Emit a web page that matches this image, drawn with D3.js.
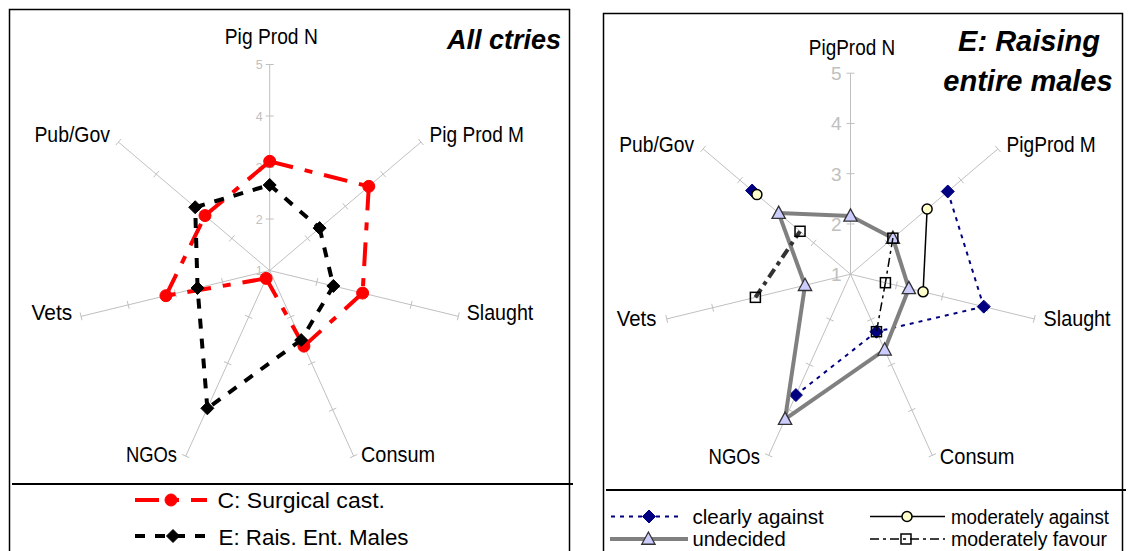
<!DOCTYPE html>
<html><head><meta charset="utf-8">
<script src="https://cdn.jsdelivr.net/npm/d3@7"></script>
<style>
body{margin:0;background:#fff}
svg{display:block}
text{font-family:"Liberation Sans",Arial,Helvetica,sans-serif}
</style>
</head><body>
<svg id="c" width="1128" height="551"></svg>
<script>
// ---------- data ----------
const axesLeft  = ["Pig Prod N","Pig Prod M","Slaught","Consum","NGOs","Vets","Pub/Gov"];
const axesRight = ["PigProd N","PigProd M","Slaught","Consum","NGOs","Vets","Pub/Gov"];
const tickValues = [1,2,3,4,5];
const titleLeft = ["All ctries"];
const titleRight = ["E: Raising","entire males"];

// left panel: all countries
const surgicalCast = [3.12, 3.62, 2.97, 2.63, 1.17, 3.20, 2.71];
const raisEntMales = [2.66, 2.32, 2.35, 2.50, 3.97, 2.53, 2.97];
const legendLeft = ["C: Surgical cast.", "E: Rais. Ent. Males"];

// right panel: E raising entire males, by attitude group
const clearlyAgainst    = [null, 3.64, 3.90, 2.27, 3.67, null, 3.67];
const moderatelyAgainst = [null, 3.08, 2.58, null, null, null, 3.54];
const undecided         = [2.16, 2.15, 2.27, 2.67, 4.20, 1.99, 2.95];
const moderatelyFavour  = [null, 2.15, 1.76, 2.27, null, 3.07, 2.37];
const legendRight = ["clearly against","moderately against","undecided","moderately favour"];

// ---------- drawing ----------
const svg = d3.select("#c");
const GRID = "#c0c0c0";

function makeGeom(cx, cy, rx, ry, n){
  const r = d3.scaleLinear().domain([1,5]).range([0,1]);
  const ang = d3.scaleLinear().domain([0,n]).range([0, 2*Math.PI]);
  const pt = (i, v) => [cx + r(v)*rx*Math.sin(ang(i)), cy - r(v)*ry*Math.cos(ang(i))];
  return {r, ang, pt, cx, cy, rx, ry, n};
}

function drawAxes(g, geo, tickFont, tdx, tdy){
  const line = d3.line();
  for (let i=0;i<geo.n;i++){
    const a = geo.pt(i,1), b = geo.pt(i,5);
    g.append("path").attr("d", line([a,b])).attr("stroke",GRID).attr("stroke-width",1).attr("fill","none");
    const L = Math.hypot(b[0]-a[0], b[1]-a[1]);
    const ux=(b[0]-a[0])/L, uy=(b[1]-a[1])/L;
    const px=-uy, py=ux;
    tickValues.slice(1).forEach(v=>{
      const p = geo.pt(i,v);
      g.append("path").attr("d", line([[p[0]-4*px,p[1]-4*py],[p[0]+4*px,p[1]+4*py]]))
        .attr("stroke",GRID).attr("stroke-width",1);
    });
  }
  tickValues.forEach(v=>{
    const p = geo.pt(0,v);
    g.append("text").attr("x", geo.cx + tdx).attr("y", p[1]+tdy)
      .attr("text-anchor","end").attr("font-size",tickFont).attr("fill",GRID).text(v);
  });
}

function drawLabels(g, names, layout, size){
  names.forEach((nm,i)=>{
    const l = layout[i];
    g.append("text").attr("x",l[0]).attr("y",l[1]).attr("text-anchor",l[2])
      .attr("font-size",size).attr("textLength",l[3]).attr("lengthAdjust","spacingAndGlyphs")
      .attr("fill","#000").text(nm);
  });
}

function marker(g, type, x, y, st){
  if (type==="circle"){
    g.append("circle").attr("cx",x).attr("cy",y).attr("r",st.size)
      .attr("fill",st.mfill).attr("stroke",st.mstroke).attr("stroke-width",st.mw);
  } else if (type==="diamond"){
    const s = st.size;
    g.append("path").attr("d",`M${x},${y-s}L${x+s},${y}L${x},${y+s}L${x-s},${y}Z`)
      .attr("fill",st.mfill).attr("stroke",st.mstroke).attr("stroke-width",st.mw);
  } else if (type==="triangle"){
    const s = st.size;
    g.append("path").attr("d",`M${x},${y-s*1.0}L${x+s*0.95},${y+s*0.75}L${x-s*0.95},${y+s*0.75}Z`)
      .attr("fill",st.mfill).attr("stroke",st.mstroke).attr("stroke-width",st.mw);
  } else if (type==="square"){
    const s = st.size;
    g.append("rect").attr("x",x-s).attr("y",y-s).attr("width",2*s).attr("height",2*s)
      .attr("fill",st.mfill).attr("stroke",st.mstroke).attr("stroke-width",st.mw);
  }
}

function drawSeries(g, geo, values, st){
  const line = d3.line();
  const n = values.length;
  for (let i=0;i<n;i++){
    const j=(i+1)%n;
    if (values[i]==null || values[j]==null) continue;
    const s = (st.segOverride && st.segOverride[i]) || st;
    g.append("path").attr("d", line([geo.pt(i,values[i]), geo.pt(j,values[j])]))
      .attr("fill","none").attr("stroke",s.color).attr("stroke-width",s.width)
      .attr("stroke-dasharray",s.dash||null).attr("stroke-linecap","butt");
  }
  values.forEach((v,i)=>{
    if (v==null) return;
    const p = geo.pt(i,v);
    marker(g, st.marker, p[0], p[1], st);
  });
}

function legendItem(g, x1, x2, xm, y, st, label, tx, ty, size, tl){
  g.append("path").attr("d", d3.line()([[x1,y],[x2,y]])).attr("fill","none")
    .attr("stroke",st.color).attr("stroke-width",st.width).attr("stroke-dasharray",st.dash||null);
  marker(g, st.marker, xm, y, st);
  g.append("text").attr("x",tx).attr("y",ty).attr("font-size",size)
    .attr("textLength",tl).attr("lengthAdjust","spacingAndGlyphs").text(label);
}

// ---- frames ----
const frame = svg.append("g").attr("fill","none").attr("stroke","#000");
frame.append("path").attr("d","M9.5,551V9.5H569.5V551").attr("stroke-width",1.5);
frame.append("path").attr("d","M12,484H573").attr("stroke-width",2);
frame.append("path").attr("d","M603.5,551V13.5H1122.5V551").attr("stroke-width",1.5);
frame.append("path").attr("d","M606,490H1126").attr("stroke-width",2);

// ================= LEFT PANEL =================
const gl = svg.append("g");
const geoL = makeGeom(269.7, 270.5, 193.5, 206, axesLeft.length);
drawAxes(gl, geoL, 12.5, -7, 4.5);
drawLabels(gl, axesLeft, [
  [271.3, 44, "middle", 93],
  [429.6, 142, "start", 94.4],
  [466.7, 320, "start", 66.6],
  [361, 462, "start", 74],
  [177, 462, "end", 51.1],
  [72.2, 320, "end", 40.7],
  [110, 142, "end", 75.6]
], 22);
gl.append("text").attr("x",561).attr("y",49).attr("text-anchor","end")
  .attr("font-size",27).attr("font-weight","bold").attr("font-style","italic").text(titleLeft[0]);

const stRed = {color:"#ff0000", width:4, dash:"24,12,8,12", marker:"circle", size:6, mfill:"#ff0000", mstroke:"#ff0000", mw:1};
const stBlack = {color:"#000", width:4, dash:"10,10", marker:"diamond", size:6.5, mfill:"#000", mstroke:"#000", mw:1};
drawSeries(gl, geoL, surgicalCast, stRed);
drawSeries(gl, geoL, raisEntMales, stBlack);

legendItem(gl, 135, 207, 171, 500, stRed, legendLeft[0], 217.4, 508, 22, 167.6);
legendItem(gl, 135, 211, 173, 536, stBlack, legendLeft[1], 218.5, 545, 22, 190);

// ================= RIGHT PANEL =================
const gr = svg.append("g");
const geoR = makeGeom(850.5, 274.2, 188.5, 201, axesRight.length);
drawAxes(gr, geoR, 19, -9, 7);
drawLabels(gr, axesRight, [
  [852, 54.5, "middle", 86.3],
  [1006.5, 152, "start", 89.3],
  [1043.6, 326, "start", 67],
  [939.8, 464, "start", 74.6],
  [760, 464, "end", 51.4],
  [656.3, 326, "end", 39.5],
  [694.1, 152, "end", 74.9]
], 22);
gr.append("text").attr("x",1029).attr("y",51).attr("text-anchor","middle")
  .attr("font-size",29).attr("font-weight","bold").attr("font-style","italic").text(titleRight[0]);
gr.append("text").attr("x",1028).attr("y",91).attr("text-anchor","middle")
  .attr("font-size",29).attr("font-weight","bold").attr("font-style","italic").text(titleRight[1]);

const stClear = {color:"#000080", width:2, dash:"4,5", marker:"diamond", size:6.5, mfill:"#000080", mstroke:"#000080", mw:1};
const stModAg = {color:"#000", width:1.5, dash:null, marker:"circle", size:5, mfill:"#ffffcc", mstroke:"#000", mw:1.5};
const stUnd = {color:"#808080", width:4, dash:null, marker:"triangle", size:7, mfill:"#ccccff", mstroke:"#333", mw:1.3};
const stFav = {color:"#000", width:1.5, dash:"9,4,3,4", marker:"square", size:5, mfill:"none", mstroke:"#000", mw:1.5,
  segOverride:{5:{color:"#333", width:4, dash:"10,5,4,5"}}};

drawSeries(gr, geoR, clearlyAgainst, stClear);
drawSeries(gr, geoR, moderatelyAgainst, stModAg);
drawSeries(gr, geoR, undecided, stUnd);
drawSeries(gr, geoR, moderatelyFavour, stFav);

legendItem(gr, 611, 683, 649, 516.5, stClear, legendRight[0], 692.4, 524, 21, 131.3);
legendItem(gr, 870, 945, 907, 516.5, stModAg, legendRight[1], 951, 524, 20, 158);
legendItem(gr, 610, 688, 648.4, 539, stUnd, legendRight[2], 692.4, 546, 21, 93.5);
legendItem(gr, 870, 945, 906, 539, stFav, legendRight[3], 951, 546, 20, 156);
</script>
</body></html>
